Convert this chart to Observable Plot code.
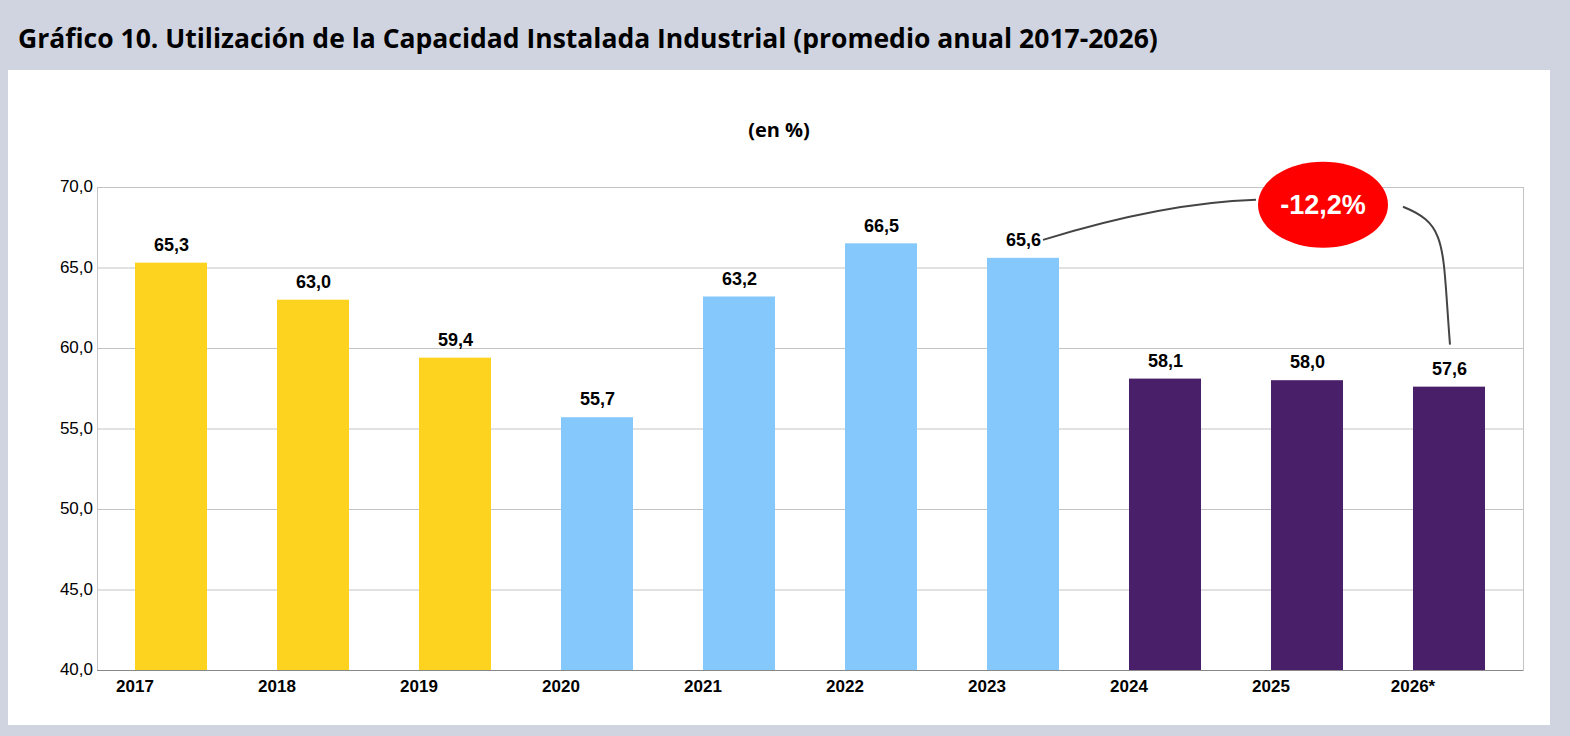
<!DOCTYPE html>
<html><head><meta charset="utf-8">
<script src="https://cdn.jsdelivr.net/npm/d3@7"></script>
<script src="https://cdn.jsdelivr.net/npm/@observablehq/plot@0.6"></script>
<style>
body{margin:0;background:#cfd4e0;width:1570px;height:736px;overflow:hidden;font-family:"Liberation Sans",Arial,sans-serif}
#title{position:absolute;left:18px;top:20px;font:bold 26.5px "Open Sans",sans-serif;color:#000}
#panel{position:absolute;left:8px;top:70px;width:1542px;height:655px;background:#fff}
#sub{position:absolute;left:0;width:100%;top:46px;text-align:center;font:bold 20px "Open Sans",sans-serif}
#chart{position:absolute;left:0;top:90px}
</style></head><body>
<div id="title">Gráfico 10. Utilización de la Capacidad Instalada Industrial (promedio anual 2017-2026)</div>
<div id="panel"><div id="sub">(en %)</div><div id="chart"></div></div>
<script>
const years = ["2017","2018","2019","2020","2021","2022","2023","2024","2025","2026*"];
const values = [65.3,63.0,59.4,55.7,63.2,66.5,65.6,58.1,58.0,57.6];
const groups = ["a","a","a","b","b","b","b","c","c","c"];
const yTicks = [40,45,50,55,60,65,70];
const annotation = "-12,2%";
const colors = {a:"#FDD320",b:"#85C8FC",c:"#4A1F6A"};
const data = years.map((y,i)=>({year:y,value:values[i],g:groups[i]}));
const fmt = v => v.toFixed(1).replace(".",",");
const W=1542,H=565;
const plot = Plot.plot({
  width:W,height:H,marginLeft:89,marginRight:27,marginTop:27,marginBottom:55,
  style:{fontFamily:"Liberation Sans, Arial, sans-serif",fontSize:"17px",color:"#000",background:"#fff"},
  x:{domain:years,paddingInner:0.495,paddingOuter:0.2475,label:null,tickSize:0},
  y:{domain:[40,70],ticks:yTicks,tickFormat:fmt,label:null,tickSize:0,grid:false},
  marks:[
    Plot.gridY(yTicks,{stroke:"#c4c4c4",strokeOpacity:1}),
    Plot.frame({stroke:"#c4c4c4"}),
    Plot.barY(data,{x:"year",y1:40,y2:"value",fill:d=>colors[d.g]}),
    Plot.ruleY([40],{stroke:"#888"}),
    Plot.text(data,{x:"year",y:"value",text:d=>fmt(d.value),dy:-18,fontWeight:"bold",fontSize:18})
  ]
});
d3.select(plot).selectAll('[aria-label="x-axis tick label"]').attr("font-weight","bold").attr("transform","translate(0,10)");
d3.select(plot).selectAll('[aria-label="y-axis tick label"]').attr("transform","translate(-4,0)");
document.getElementById("chart").appendChild(plot);
const sx=plot.scale("x"), sy=plot.scale("y");
const bw=sx.bandwidth||0;
const cx=sx.apply("2025")+bw/2+16, cy=sy.apply(68.9);
const svg=d3.select(plot);
const lx=sx.apply("2023")+bw/2+20, ly=sy.apply(65.6)-18;
const tx=sx.apply("2026*")+bw/2+1, ty=sy.apply(57.6)-42;
svg.append("path").attr("d",`M${lx},${ly} Q${cx-160},${cy-2} ${cx-67},${cy-5}`).attr("fill","none").attr("stroke","#444").attr("stroke-width",2);
svg.append("path").attr("d",`M${cx+80},${cy+2} C${cx+125},${cy+20} ${tx-8},${cy+40} ${tx},${ty}`).attr("fill","none").attr("stroke","#444").attr("stroke-width",2);
svg.append("ellipse").attr("cx",cx).attr("cy",cy).attr("rx",65).attr("ry",43).attr("fill","#ff0000");
svg.append("text").attr("x",cx).attr("y",cy).attr("dy","0.35em").attr("text-anchor","middle").attr("fill","#fff").attr("font-weight","bold").attr("font-size",27).text(annotation);
</script></body></html>
